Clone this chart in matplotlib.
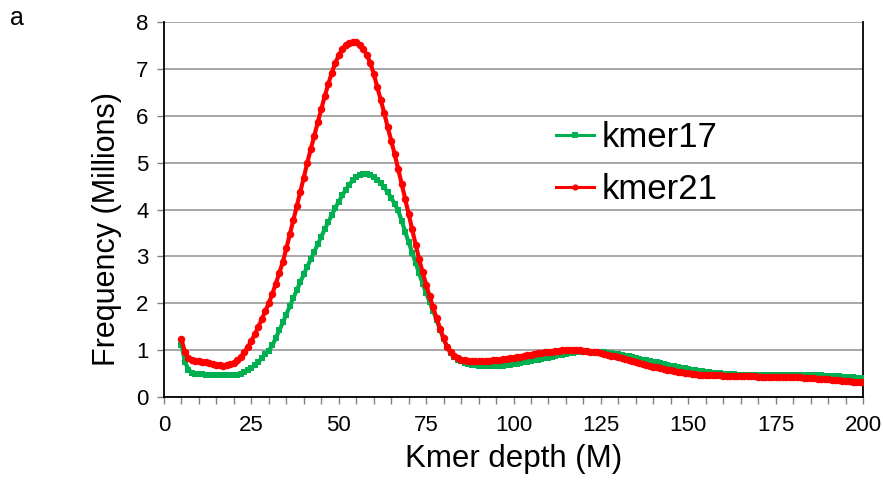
import matplotlib
matplotlib.use("Agg")
import matplotlib.pyplot as plt
import numpy as np

plt.rcParams['font.family'] = ['Liberation Sans', 'DejaVu Sans']

depth = list(range(5, 201))

kmer21 = [
    1.23, 0.95, 0.83, 0.79, 0.77, 0.76, 0.75, 0.74, 0.72, 0.70,   # 5-14
    0.69, 0.68, 0.67, 0.68, 0.70, 0.73, 0.78, 0.86, 0.96, 1.07,   # 15-24
    1.20, 1.34, 1.50, 1.66, 1.84, 2.00, 2.20, 2.42, 2.65, 2.88,   # 25-34
    3.17, 3.47, 3.77, 4.08, 4.38, 4.68, 5.00, 5.29, 5.57, 5.86,   # 35-44
    6.14, 6.42, 6.67, 6.92, 7.12, 7.29, 7.42, 7.51, 7.56, 7.58,   # 45-54
    7.57, 7.52, 7.43, 7.30, 7.13, 6.90, 6.62, 6.34, 6.06, 5.76,   # 55-64
    5.47, 5.18, 4.87, 4.55, 4.23, 3.90, 3.58, 3.25, 2.94, 2.66,   # 65-74
    2.40, 2.15, 1.91, 1.68, 1.46, 1.25, 1.07, 0.95, 0.88, 0.83,   # 75-84
    0.80, 0.78, 0.77, 0.76, 0.76, 0.76, 0.76, 0.76, 0.77, 0.78,   # 85-94
    0.79, 0.80, 0.81, 0.82, 0.83, 0.84, 0.85, 0.86, 0.87, 0.89,   # 95-104
    0.90, 0.92, 0.93, 0.94, 0.95, 0.96, 0.97, 0.98, 0.99, 1.00,   # 105-114
    1.00, 1.01, 1.01, 1.01, 1.00, 0.99, 0.98, 0.97, 0.96, 0.95,   # 115-124
    0.93, 0.92, 0.90, 0.88, 0.87, 0.85, 0.83, 0.81, 0.79, 0.77,   # 125-134
    0.75, 0.73, 0.71, 0.69, 0.67, 0.65, 0.63, 0.61, 0.60, 0.58,   # 135-144
    0.57, 0.55, 0.54, 0.53, 0.52, 0.51, 0.50, 0.49, 0.48, 0.48,   # 145-154
    0.47, 0.47, 0.46, 0.46, 0.46, 0.45, 0.45, 0.45, 0.45, 0.44,   # 155-164
    0.44, 0.44, 0.44, 0.44, 0.44, 0.43, 0.43, 0.43, 0.43, 0.43,   # 165-174
    0.43, 0.43, 0.43, 0.42, 0.42, 0.42, 0.42, 0.42, 0.41, 0.41,   # 175-184
    0.40, 0.40, 0.39, 0.39, 0.38, 0.38, 0.37, 0.37, 0.36, 0.35,   # 185-194
    0.35, 0.34, 0.33, 0.33, 0.32, 0.31,                           # 195-200
]

kmer17 = [
    1.12, 0.75, 0.58, 0.52, 0.50, 0.49, 0.49, 0.48, 0.48, 0.47,   # 5-14
    0.47, 0.46, 0.46, 0.46, 0.46, 0.47, 0.48, 0.50, 0.53, 0.57,   # 15-24
    0.62, 0.68, 0.75, 0.83, 0.92, 0.99, 1.10, 1.26, 1.42, 1.59,   # 25-34
    1.76, 1.94, 2.11, 2.28, 2.45, 2.62, 2.78, 2.94, 3.10, 3.26,   # 35-44
    3.42, 3.58, 3.73, 3.88, 4.03, 4.17, 4.30, 4.42, 4.53, 4.62,   # 45-54
    4.69, 4.74, 4.76, 4.76, 4.74, 4.70, 4.64, 4.56, 4.47, 4.37,   # 55-64
    4.25, 4.12, 3.98, 3.76, 3.53, 3.30, 3.08, 2.86, 2.64, 2.42,   # 65-74
    2.22, 2.03, 1.84, 1.64, 1.44, 1.24, 1.07, 0.94, 0.86, 0.80,   # 75-84
    0.76, 0.73, 0.71, 0.69, 0.68, 0.67, 0.66, 0.66, 0.66, 0.66,   # 85-94
    0.66, 0.67, 0.67, 0.68, 0.69, 0.70, 0.71, 0.73, 0.74, 0.75,   # 95-104
    0.77, 0.78, 0.80, 0.81, 0.83, 0.84, 0.86, 0.87, 0.89, 0.90,   # 105-114
    0.92, 0.93, 0.94, 0.95, 0.96, 0.97, 0.97, 0.97, 0.97, 0.97,   # 115-124
    0.96, 0.95, 0.94, 0.93, 0.92, 0.91, 0.90, 0.88, 0.87, 0.85,   # 125-134
    0.84, 0.82, 0.80, 0.79, 0.77, 0.75, 0.74, 0.72, 0.70, 0.69,   # 135-144
    0.67, 0.66, 0.64, 0.62, 0.61, 0.59, 0.58, 0.57, 0.56, 0.55,   # 145-154
    0.54, 0.53, 0.52, 0.51, 0.51, 0.50, 0.50, 0.49, 0.49, 0.48,   # 155-164
    0.48, 0.48, 0.48, 0.47, 0.47, 0.47, 0.47, 0.47, 0.47, 0.47,   # 165-174
    0.47, 0.47, 0.47, 0.47, 0.47, 0.47, 0.47, 0.47, 0.47, 0.47,   # 175-184
    0.47, 0.46, 0.46, 0.46, 0.45, 0.45, 0.45, 0.44, 0.44, 0.43,   # 185-194
    0.43, 0.42, 0.42, 0.41, 0.41, 0.40,                           # 195-200
]

x_major = list(range(0, 201, 25))
x_minor = list(range(0, 201, 5))
y_ticks = list(range(0, 9))

fig = plt.figure(figsize=(8.83, 4.8), dpi=100)
ax = fig.add_axes([164/883, 1-397/480, (863-164)/883, (397-22)/480])

green = '#00B050'
red = '#FF0000'

ax.plot(depth, kmer17, color=green, lw=3.0, marker='s', ms=4.2,
        markeredgewidth=0, label='kmer17', zorder=3)
ax.plot(depth, kmer21, color=red, lw=3.0, marker='o', ms=5.4,
        markeredgewidth=0, label='kmer21', zorder=4)

ax.set_xlim(0, 200)
ax.set_ylim(0, 8)
ax.set_xticks(x_major)
ax.set_xticks(x_minor, minor=True)
ax.set_yticks(y_ticks)
ax.tick_params(axis='both', which='both', direction='out', length=5,
               width=1, color='#808080', labelsize=16, pad=6)
ax.tick_params(axis='x', which='major', pad=8)
ax.grid(axis='y', color='#A0A0A0', lw=1.3, zorder=0)
ax.set_axisbelow(True)
for s in ['left', 'bottom', 'right']:
    ax.spines[s].set_color('black')
    ax.spines[s].set_linewidth(1.3)
ax.spines['top'].set_visible(False)

ax.set_xlabel('Kmer depth (M)', fontsize=22.5, labelpad=6)
ax.set_ylabel('Frequency (Millions)', fontsize=22, va='center')
ax.yaxis.set_label_coords(-0.0815, 0.448)

leg = ax.legend(loc='center left', bbox_to_anchor=(0.541, 0.623), frameon=False,
                fontsize=25, handlelength=1.1, handletextpad=0.2,
                labelspacing=0.55, borderaxespad=0)
for h in leg.legend_handles:
    h.set_linewidth(2.2)
    h.set_markersize(4.5)

fig.text(10/883, 1-18/480, 'a', fontsize=18, va='center', ha='left')

fig.savefig('out.png', dpi=100)
